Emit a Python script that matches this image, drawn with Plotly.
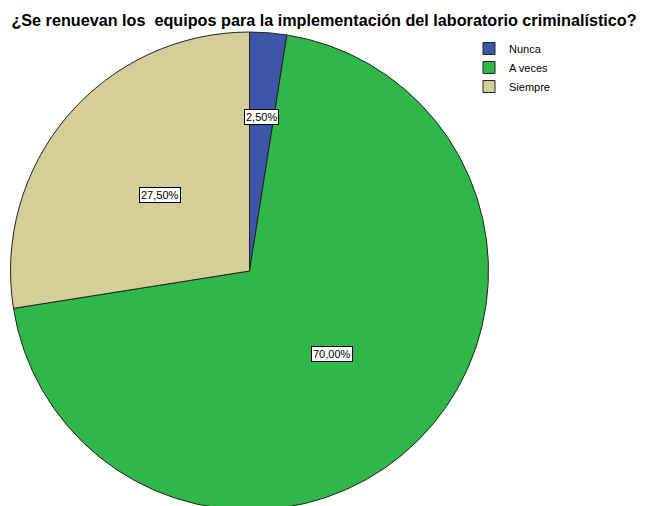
import math
import plotly.graph_objects as go

labels = ["Nunca", "A veces", "Siempre"]
values = [2.5, 70.0, 27.5]
text_labels = ["2,50%", "70,00%", "27,50%"]
colors = ["#3d56a8", "#2fb74a", "#d4cf98"]
label_radius = [0.645, 0.49, 0.49]

W, H = 646, 506
r = 239
mt = 24
mb = H - mt - 2 * r
cx, cy = 241.5, mt + r

fig = go.Figure(go.Pie(
    labels=labels, values=values, sort=False, direction="clockwise", rotation=0,
    marker=dict(colors=colors, line=dict(color="#222222", width=1)),
    textinfo="none", hoverinfo="label+percent",
    domain=dict(x=[(cx - r) / W, (cx + r) / W], y=[0, 1]),
))

total = sum(values)
cum = 0.0
annotations = []
ph = H - mt - mb
for v, t, rf in zip(values, text_labels, label_radius):
    mid = (cum + v / 2) / total * 2 * math.pi
    cum += v
    px = cx + rf * r * math.sin(mid)
    py = cy - rf * r * math.cos(mid)
    annotations.append(dict(
        x=px / W, y=(H - mb - py) / ph, xref="paper", yref="paper",
        xanchor="center", yanchor="middle",
        text=t, showarrow=False, font=dict(family="Liberation Sans, Arial", size=11, color="black"),
        bgcolor="white", bordercolor="black", borderwidth=1, borderpad=1,
    ))

fig.update_layout(
    width=W, height=H, margin=dict(l=0, r=0, t=mt, b=mb),
    paper_bgcolor="white", plot_bgcolor="white",
    title=dict(text="<b>¿Se renuevan los  equipos para la implementación del laboratorio criminalístico?</b>",
               x=316 / W, xanchor="center", y=1 - 12 / H, yanchor="middle",
               font=dict(family="Liberation Sans, Arial", size=16.2, color="black")),
    legend=dict(x=461 / W, y=(H - mb - 26) / ph, xanchor="left", yanchor="top",
                font=dict(family="Liberation Sans, Arial", size=11, color="black"),
                bgcolor="rgba(0,0,0,0)", itemwidth=30),
    annotations=annotations,
)
fig.write_html("out.html")
